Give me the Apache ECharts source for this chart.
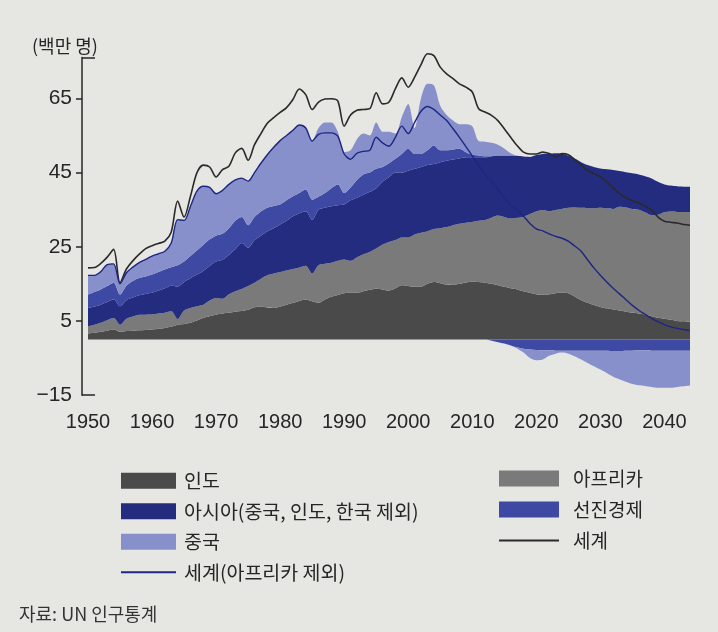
<!DOCTYPE html>
<html>
<head>
<meta charset="utf-8">
<script src="https://cdn.jsdelivr.net/npm/echarts@6/dist/echarts.min.js"></script>
<style>
html,body{margin:0;padding:0;background:#e6e6e2;}
#chart{width:718px;height:632px;}
</style>
</head>
<body>
<div id="chart"></div>
<script>
// Categories: years 1950..2044
const years = [];
for (let y = 1950; y <= 2044; y++) years.push(String(y));

const xTickLabels = ['1950','1960','1970','1980','1990','2000','2010','2020','2030','2040'];
const yTickLabels = [-15, 5, 25, 45, 65];

// Annual change, millions
const india = [
  1.6,1.8,2.1,2.4,2.7,2.1,2.3,2.4,2.5,2.6,
  2.7,2.9,3.1,3.5,4.0,4.2,4.5,5.1,5.8,6.3,
  6.7,7.0,7.2,7.5,7.7,8.0,8.7,8.9,8.6,8.5,
  8.9,9.4,9.9,10.4,10.8,10.3,9.9,10.8,11.5,12.0,
  12.5,12.6,12.6,13.0,13.4,13.7,13.5,13.2,13.8,14.6,
  14.4,14.2,14.2,15.0,15.5,15.2,14.8,14.7,15.0,15.4,
  15.6,15.5,15.3,15.0,14.6,14.2,13.8,13.5,13.0,12.6,
  12.2,12.1,12.2,12.5,12.6,12.5,11.6,10.6,9.9,9.3,
  8.8,8.4,8.1,7.8,7.5,7.2,7.0,6.7,6.3,5.9,
  5.6,5.3,5.0,4.9,4.8
];
const africa = [
  2.0,2.2,2.4,2.8,3.1,1.9,3.3,3.8,4.2,4.1,
  4.1,4.1,4.1,4.1,1.5,3.6,4.0,3.9,3.6,4.2,
  4.5,4.0,5.0,5.5,5.9,6.4,6.6,7.5,8.7,9.3,
  9.3,9.2,9.1,9.0,9.1,7.5,10.1,9.6,9.2,9.2,
  9.1,8.6,9.6,10.0,10.2,10.8,12.1,13.1,13.0,12.9,
  13.1,14.1,14.6,14.2,14.3,14.8,15.5,16.1,16.2,16.1,
  16.1,16.5,16.9,17.8,18.8,18.8,18.8,19.3,20.1,21.2,
  22.3,22.8,22.4,22.4,22.6,23.0,24.0,24.9,25.5,26.1,
  26.7,26.9,27.1,28.0,28.1,28.0,28.0,27.6,27.2,27.7,
  28.7,29.2,29.4,29.5,29.5
];
const asiaOther = [
  4.9,4.9,4.9,4.9,5.0,5.0,5.0,5.1,5.2,5.6,
  5.8,6.2,6.6,6.9,8.8,7.7,8.0,8.5,9.1,9.3,
  9.8,10.5,10.6,11.3,12.4,10.3,11.5,11.6,11.9,12.2,
  12.8,13.4,14.2,14.6,14.7,14.5,15.0,15.1,15.2,15.0,
  14.8,16.3,16.0,16.0,16.2,16.3,16.9,17.5,18.2,17.5,
  18.0,17.7,17.7,17.8,17.5,17.8,17.9,17.7,17.6,17.6,
  17.4,17.1,16.9,16.6,16.2,16.6,17.0,16.7,16.2,15.4,
  15.2,15.1,15.5,15.3,14.9,14.0,13.2,12.3,11.6,11.1,
  10.6,10.6,10.5,9.6,9.5,9.6,9.5,9.7,9.9,8.9,
  7.5,7.0,6.9,6.8,6.9
];
const advanced = [
  3.6,3.9,4.1,4.3,4.5,3.1,3.9,4.5,4.7,4.7,
  4.9,5.0,5.1,5.0,5.7,5.5,6.0,6.5,7.0,7.2,
  7.0,7.0,7.2,7.7,7.0,6.1,6.2,6.5,6.3,6.0,
  5.4,5.5,5.4,5.5,5.8,5.4,3.5,4.0,4.9,5.6,
  3.1,3.5,4.8,5.5,5.2,5.2,4.0,3.7,3.7,5.0,
  5.9,4.0,3.5,4.0,5.0,3.2,2.8,2.7,2.6,1.4,
  0.7,0.5,0.3,-0.3,-0.7,-1.1,-1.6,-2.1,-2.5,-2.7,
  -2.8,-2.9,-2.9,-3.0,-3.0,-3.0,-3.0,-3.0,-3.0,-3.0,
  -3.0,-3.0,-3.1,-3.1,-3.0,-3.0,-2.9,-2.9,-3.0,-3.0,
  -3.0,-3.0,-3.0,-3.0,-3.0
];
const china = [
  5.2,4.5,4.8,5.8,5.1,2.9,3.5,3.7,4.1,4.6,
  5.0,4.9,4.9,6.5,12.3,11.1,13.4,16.0,15.8,14.0,
  11.3,11.7,11.8,11.0,10.5,11.9,12.0,13.0,14.3,15.8,
  17.2,17.5,17.8,18.3,16.6,15.8,18.5,19.0,17.7,14.2,
  11.0,10.0,11.0,11.0,10.0,12.5,9.5,8.5,6.8,10.0,
  12.1,7.0,15.0,17.9,16.2,12.0,9.5,7.8,6.6,7.5,
  7.7,3.9,3.9,3.6,2.9,1.9,0.6,-0.3,-1.0,-2.3,
  -2.8,-2.5,-1.5,-0.8,-0.5,-0.8,-1.5,-2.4,-3.3,-4.2,
  -5.1,-6.0,-6.9,-7.6,-8.4,-9.0,-9.4,-9.6,-9.8,-10.0,
  -10.0,-10.0,-9.8,-9.6,-9.4
];
const world = [
  19.3,19.4,20.5,22.2,24.3,15.3,19.0,21.2,23.0,24.5,
  25.3,25.9,26.5,29.0,37.3,33.0,38.6,44.9,47.0,46.5,
  43.8,45.8,46.7,50.3,51.5,48.3,52.5,55.5,58.3,59.8,
  61.2,62.5,64.7,67.5,66.0,62.0,64.0,64.8,64.9,64.3,
  57.5,60.5,61.8,62.0,62.2,66.5,63.5,64.0,67.6,70.5,
  68.0,70.7,74.1,77.0,76.5,73.4,71.6,70.3,68.9,68.0,
  66.7,62.2,61.3,60.4,59.0,56.8,54.5,52.3,50.5,50.0,
  50.0,50.5,50.1,49.2,50.1,49.8,48.5,47.0,45.6,44.7,
  43.9,42.5,40.8,39.3,38.2,37.4,36.8,35.9,34.9,33.0,
  31.9,31.6,31.4,31.0,30.8
];
const worldExAfrica = [
  17.3,17.3,18.3,20.2,20.4,15.0,18.0,19.5,20.7,21.6,
  22.5,23.1,23.8,26.0,32.3,32.1,35.9,40.0,41.3,41.0,
  39.3,40.2,41.8,43.0,43.5,42.7,45.0,47.5,49.8,51.8,
  53.6,55.0,56.4,57.8,57.0,53.5,55.3,55.7,55.7,54.8,
  50.0,48.6,50.2,50.7,51.0,54.5,53.0,52.1,54.5,57.5,
  55.5,58.5,61.5,62.8,62.0,60.5,59.0,56.8,54.5,52.0,
  49.5,47.0,44.5,42.5,40.5,38.3,36.3,35.0,33.2,31.3,
  29.8,29.3,28.5,27.8,27.3,26.5,25.2,23.8,21.5,19.3,
  17.3,15.5,13.8,12.3,10.7,9.2,7.9,6.8,5.7,4.8,
  4.0,3.4,3.0,2.7,2.4
];

const names = {
  india: '인도',
  africa: '아프리카',
  asia: '아시아(중국, 인도, 한국 제외)',
  adv: '선진경제',
  china: '중국',
  world: '세계',
  worldEx: '세계(아프리카 제외)'
};
const colors = {
  india: '#4a4a4a',
  africa: '#7a7a7a',
  asia: '#242c80',
  adv: '#3e49a3',
  china: '#8890cb',
  world: '#2a2a2a',
  worldEx: '#1d2683'
};

const pos = arr => arr.map(v => Math.max(v, 0));
const neg = arr => arr.map(v => Math.min(v, 0));

const FONT = "'Liberation Sans','Noto Sans CJK KR',sans-serif";
const KFONT = "'Noto Sans CJK KR','Liberation Sans',sans-serif";
const TXT = '#262626';

function area(name, color, data, stack) {
  return {
    name, type: 'line', stack, data,
    symbol: 'none', smooth: 0.3,
    lineStyle: { width: 0, color },
    itemStyle: { color },
    areaStyle: { color, opacity: 1 },
    emphasis: { disabled: true },
    z: 2
  };
}
function line(name, color, data, width) {
  return {
    name, type: 'line', data,
    symbol: 'none', smooth: 0.3, clip: false,
    lineStyle: { width, color },
    itemStyle: { color },
    emphasis: { disabled: true },
    z: 4
  };
}

const chart = echarts.init(document.getElementById('chart'), null, { renderer: 'canvas' });
chart.setOption({
  backgroundColor: '#e6e6e2',
  animation: false,
  title: [
    { text: '(백만 명)', left: 32, top: 37, padding: 0,
      textStyle: { fontSize: 18, fontWeight: 'normal', color: TXT, fontFamily: KFONT } },
    { text: '자료: UN 인구통계', left: 19, top: 605, padding: 0,
      textStyle: { fontSize: 18, fontWeight: 'normal', color: '#333', fontFamily: KFONT } }
  ],
  grid: { left: 88, right: 28, top: 57.5, bottom: 236.8, containLabel: false },
  legend: [
    {
      orient: 'vertical', left: 120, top: 471, padding: 0,
      itemWidth: 55, itemHeight: 16, itemGap: 11,
      selectedMode: false,
      textStyle: { fontSize: 19.5, color: TXT, fontFamily: KFONT, padding: [0, 0, 0, 3] },
      data: [
        { name: names.india, icon: 'rect' },
        { name: names.asia, icon: 'rect' },
        { name: names.china, icon: 'rect' },
        { name: names.worldEx, itemStyle: { opacity: 0 } }
      ]
    },
    {
      orient: 'vertical', left: 498, top: 469, padding: 0,
      itemWidth: 60, itemHeight: 16, itemGap: 12,
      selectedMode: false,
      textStyle: { fontSize: 19, color: TXT, fontFamily: KFONT, padding: [0, 0, 0, 9] },
      data: [
        { name: names.africa, icon: 'rect' },
        { name: names.adv, icon: 'rect' },
        { name: names.world, itemStyle: { opacity: 0 } }
      ]
    }
  ],
  xAxis: {
    type: 'category', data: years, boundaryGap: false,
    axisLine: { show: false, onZero: false },
    axisTick: { show: false },
    splitLine: { show: false },
    axisLabel: {
      interval: (i, v) => xTickLabels.indexOf(v) >= 0,
      fontSize: 20, color: TXT, fontFamily: FONT, margin: 17
    }
  },
  yAxis: [
    {
      type: 'value', min: -15, max: 76, position: 'left', offset: 6,
      axisLine: { show: true, lineStyle: { color: TXT, width: 1.5 } },
      axisTick: { show: true, customValues: [5, 25, 45, 65], length: 6, lineStyle: { color: TXT, width: 1.5 } },
      axisLabel: {
        customValues: yTickLabels, fontSize: 21, color: TXT, fontFamily: FONT, margin: 10,
        formatter: v => (v < 0 ? '\u2212' + Math.abs(v) : String(v))
      },
      splitLine: { show: false }
    },
    {
      type: 'value', min: -15, max: 76, position: 'left', offset: 6,
      axisLine: { show: false },
      axisLabel: { show: false },
      axisTick: { show: true, inside: true, customValues: [-15, 76], length: 13, lineStyle: { color: TXT, width: 1.5 } },
      splitLine: { show: false }
    }
  ],
  series: [
    area(names.india, colors.india, india, 'pos'),
    area(names.africa, colors.africa, africa, 'pos'),
    area(names.asia, colors.asia, asiaOther, 'pos'),
    area(names.adv, colors.adv, pos(advanced), 'pos'),
    area(names.china, colors.china, pos(china), 'pos'),
    area(names.adv, colors.adv, neg(advanced), 'neg'),
    area(names.china, colors.china, neg(china), 'neg'),
    line(names.world, colors.world, world, 1.6),
    line(names.worldEx, colors.worldEx, worldExAfrica, 1.4)
  ]
});
</script>
</body>
</html>
